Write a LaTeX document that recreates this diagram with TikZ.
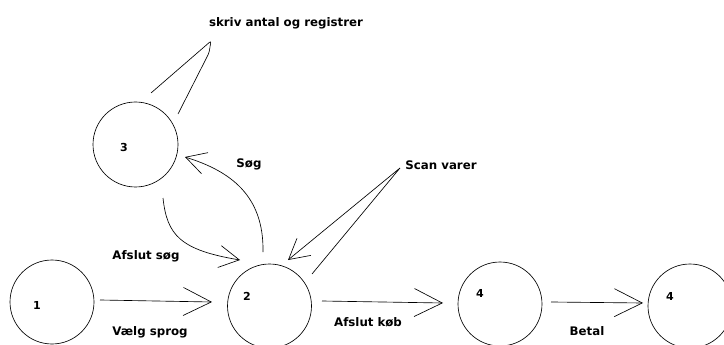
\documentclass[tikz,border=0pt]{standalone}
\usepackage{fontspec}
\setmainfont{DejaVu Sans}
\usetikzlibrary{arrows.meta}
\begin{document}
\begin{tikzpicture}[x=1pt,y=-1pt,
  state/.style={circle,draw=black,line width=0.65pt,minimum size=84pt,inner sep=0pt},
  num/.style={font=\fontsize{11}{13}\selectfont\bfseries,inner sep=0pt},
  lbl/.style={font=\fontsize{11.8}{14}\selectfont\bfseries,inner sep=0pt},
  conn/.style={line width=0.65pt,draw=black},
  big/.style={conn,-{Straight Barb[length=28pt,width=28pt,line width=0.65pt]}},
  small/.style={conn,-{Straight Barb[length=20pt,width=22pt,line width=0.65pt]}}]
\useasboundingbox (0,0) rectangle (724,345);
% states
\node[state] (c1) at (52,302) {};
\node[state,minimum size=85pt] (c3) at (135.5,144.5) {};
\node[state] (c2) at (269.5,306) {};
\node[state] (c4a) at (500,304) {};
\node[state] (c4b) at (690,306) {};
% numbers
\node[num] (n1) at (37,305) {1};
\node[num] (n2) at (247,296) {2};
\node[num] (n3) at (124,147) {3};
\node[num] (n4a) at (480,293) {4};
\node[num] (n4b) at (670,296) {4};
% loop apexes
\coordinate (apex3) at (211,41);
\coordinate (apex2) at (400,168);
% straight transitions
\draw[big] ([shift={(48,-2)}]c1.center) -- ([shift={(-57.5,-4)}]c2.center);
\draw[big] ([shift={(52.5,-5)}]c2.center) -- ([shift={(-57,-1)}]c4a.center);
\draw[big] ([shift={(51,-2)}]c4a.center) -- ([shift={(-47,-3)}]c4b.center);
% Afslut søg
\draw[small] ([shift={(27.5,53.5)}]c3.center) .. controls +(4,37) and +(-60,-10) .. ([shift={(-29.5,-46)}]c2.center);
% Søg
\draw[small] ([shift={(-6.5,-54)}]c2.center) .. controls +(1,-57) and +(45,14) .. ([shift={(49.5,12.5)}]c3.center);
% Scan varer loop
\draw[small] ([shift={(42.5,-32)}]c2.center) -- (apex2) -- ([shift={(18.5,-46)}]c2.center);
% skriv antal loop
\draw[conn,rounded corners=2pt] ([shift={(15.5,-51.5)}]c3.center) -- (apex3) -- (209,53) -- ([shift={(42.5,-30.5)}]c3.center);
% labels
\node[lbl] (t1) at (286,23) {skriv antal og registrer};
\node[lbl] (t2) at (249,164) {Søg};
\node[lbl] (t3) at (146,256) {Afslut søg};
\node[lbl] (t4) at (150,332) {Vælg sprog};
\node[lbl] (t5) at (441,165) {Scan varer};
\node[lbl] (t6) at (368,322) {Afslut køb};
\node[lbl] (t7) at (587,331) {Betal};
\end{tikzpicture}
\end{document}
